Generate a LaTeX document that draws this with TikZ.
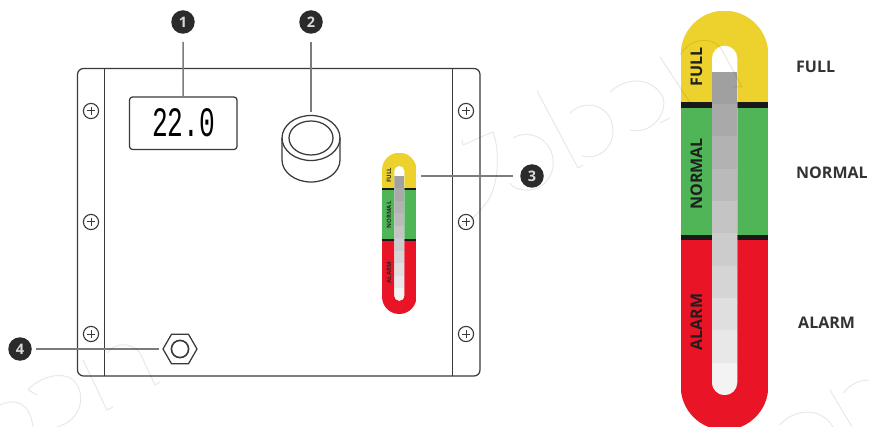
\documentclass[tikz,border=0pt]{standalone}
\usepackage{fontspec}
\usetikzlibrary{shapes.geometric}
\setmainfont{Open Sans}
\newfontfamily\lcdfont{Liberation Mono}
\definecolor{gyellow}{HTML}{EDD22E}
\definecolor{ggreen}{HTML}{4FB557}
\definecolor{gred}{HTML}{EA1427}
\definecolor{badgecol}{HTML}{2B2B2B}
\definecolor{linecol}{HTML}{3A3A3A}
\definecolor{leadercol}{HTML}{7C7C7C}
\tikzset{
  x=1pt,y=-1pt,
  outline/.style={draw=linecol,line width=1.25pt},
  badge/.style={circle,fill=badgecol,minimum size=23.5pt,inner sep=0pt,text=white!85!black,font=\fontsize{14.5}{14.5}\selectfont\bfseries},
  leader/.style={draw=leadercol,line width=1.5pt},
  gaugelabel/.style={rotate=90,inner sep=0pt,text=black!88,font=\fontsize{16}{16}\selectfont\bfseries},
  smalllabel/.style={rotate=90,inner sep=0pt,text=black!85,font=\fontsize{6}{6}\selectfont\bfseries},
  sidelabel/.style={anchor=west,inner sep=0pt,text=black!80,font=\fontsize{16}{16}\selectfont\bfseries},
  watermark/.style={draw=black,opacity=.09,line width=1pt,line join=round}
}
\newcommand{\gaugedraw}[8]{%
  \pgfmathsetmacro{\gL}{#1}\pgfmathsetmacro{\gR}{#2}\pgfmathsetmacro{\gT}{#3}\pgfmathsetmacro{\gB}{#4}
  \pgfmathsetmacro{\sL}{#5}\pgfmathsetmacro{\sR}{#6}\pgfmathsetmacro{\sT}{#7}\pgfmathsetmacro{\sB}{#8}
  \pgfmathsetmacro{\gr}{(\gR-\gL)/2}\pgfmathsetmacro{\sr}{(\sR-\sL)/2}
  \begin{scope}
    \clip (\gL,\gT+\gr) arc[start angle=180,end angle=0,x radius=\gr,y radius=-\gr] -- (\gR,\gB-\gr) arc[start angle=0,end angle=-180,x radius=\gr,y radius=-\gr] -- cycle;
    \fill[gyellow] (\gL,\gT) rectangle (\gR,\dA);
    \fill[ggreen] (\gL,\dA) rectangle (\gR,\dB);
    \fill[gred] (\gL,\dB) rectangle (\gR,\gB);
    \fill[black!90] (\gL,\dA-\dH) rectangle (\gR,\dA+\dH);
    \fill[black!90] (\gL,\dB-\dH) rectangle (\gR,\dB+\dH);
  \end{scope}
  \fill[white] (\sL,\sT+\sr) arc[start angle=180,end angle=0,x radius=\sr,y radius=-\sr] -- (\sR,\sB-\sr) arc[start angle=0,end angle=-180,x radius=\sr,y radius=-\sr] -- cycle;
  \begin{scope}
    \clip (\sL,\sT+\sr) arc[start angle=180,end angle=0,x radius=\sr,y radius=-\sr] -- (\sR,\sB-\sr) arc[start angle=0,end angle=-180,x radius=\sr,y radius=-\sr] -- cycle;
    \pgfmathsetmacro{\bandh}{(\sB-\gZ)/10}
    \foreach \i/\c in {0/A0A0A0,1/A9A9A9,2/B2B2B2,3/BABABA,4/C4C4C4,5/CCCCCC,6/D5D5D5,7/DFDFDF,8/E8E8E8,9/F3F3F3}{
      \definecolor{bandcol}{HTML}{\c}
      \fill[bandcol] (\sL,\gZ+\i*\bandh) rectangle (\sR,\gZ+\i*\bandh+\bandh+0.3);
    }
  \end{scope}
}
\begin{document}
\begin{tikzpicture}
\useasboundingbox (0,0) rectangle (869,427);
\fill[white] (0,0) rectangle (869,427);
% panel
\draw[outline,rounded corners=6pt] (77.5,68.5) rectangle (480,376);
\draw[outline] (104.5,68.5) -- (104.5,376) (452.5,68.5) -- (452.5,376);
\foreach \sx in {91,466}{\foreach \sy in {111,222,334}{
  \draw[outline,line width=1.1pt] (\sx,\sy) circle[radius=7.6];
  \draw[outline,line width=1pt] (\sx-4,\sy) -- (\sx+4,\sy) (\sx,\sy-4) -- (\sx,\sy+4);
}}
% LCD
\node[outline,rounded corners=3pt,minimum width=107.5pt,minimum height=52.5pt,inner sep=0pt] (lcd) at (183.25,123.25) {};
\node[inner sep=0pt,xscale=.64,yscale=1.02,font=\fontsize{41}{41}\lcdfont] (lcdtext) at (183.5,122.5) {22.0};
% knob
\node[ellipse,outline,minimum width=58pt,minimum height=45pt,inner sep=0pt] (knob) at (311,138) {};
\node[ellipse,outline,minimum width=44pt,minimum height=34pt,inner sep=0pt] (knobcap) at (311,138) {};
\draw[outline] (282,138) -- (282,160) arc[start angle=180,end angle=360,x radius=29,y radius=-22] -- (340,138);
% nut
\node[regular polygon,regular polygon sides=6,outline,minimum size=34pt,inner sep=0pt] (nut) at (180,349) {};
\draw[outline,line width=1.6pt] (nut.center) circle[radius=8.6];
% small gauge
\def\dA{189}\def\dB{240}\def\dH{0.7}\def\gZ{176}
\gaugedraw{382}{416.5}{152.7}{314}{394.3}{404.3}{166}{300.7}
\coordinate (smalltip) at (420.5,176);
\node[smalllabel] (sfull) at (389,175) {FULL};
\node[smalllabel] (snormal) at (389,215) {NORMAL};
\node[smalllabel] (salarm) at (389,272.5) {ALARM};
% big gauge
\def\dA{105}\def\dB{237.5}\def\dH{2.6}\def\gZ{71.7}
\gaugedraw{680.7}{768.3}{10.7}{430}{712}{737.3}{45.7}{395}
\node[gaugelabel] (bfull) at (696.5,67) {FULL};
\node[gaugelabel] (bnormal) at (696.5,174) {NORMAL};
\node[gaugelabel] (balarm) at (696.5,322) {ALARM};
\node[sidelabel] (lfull) at (796,67) {FULL};
\node[sidelabel] (lnormal) at (796,173) {NORMAL};
\node[sidelabel] (lalarm) at (798,323) {ALARM};
% badges
\node[badge] (b1) at (183,22) {1};
\node[badge] (b2) at (311,22) {2};
\node[badge] (b3) at (532,176) {3};
\node[badge] (b4) at (20,349) {4};
\draw[leader,shorten <=8pt] (b1.south) -- (lcd.north);
\draw[leader,shorten <=8pt,shorten >=3pt] (b2.south) -- (knob.north);
\draw[leader,shorten <=7pt] (b3.west) -- (smalltip);
\draw[leader,shorten <=4pt,shorten >=3pt] (b4.east) -- (nut.west);
% watermark
\draw[watermark] (462,140) -- (463,145) .. controls (475,140) and (485,135) .. (493,132) .. controls (500,150) and (500,190) .. (483,207) .. controls (475,218) and (465,224) .. (457,227);
\draw[watermark] (513,138) .. controls (530,128) and (552,140) .. (553,160) .. controls (555,178) and (540,190) .. (530,190) .. controls (520,191) and (512,187) .. (510,183);
\draw[watermark] (537,91) -- (578,168) -- (583,165);
\draw[watermark] (570,113) .. controls (585,98) and (612,105) .. (613,130) .. controls (613,150) and (597,160) .. (582,156);
\draw[watermark] (610,92) .. controls (625,78) and (650,75) .. (663,97) .. controls (668,115) and (650,135) .. (630,130);
\draw[watermark] (660,57) -- (693,107);
\draw[watermark] (660,123) -- (670,118);
\draw[watermark] (680,55) .. controls (690,38) and (712,35) .. (722,50) -- (742,87) -- (733,87);
\draw[watermark] (83,360) -- (107,410) -- (113,407);
\draw[watermark] (107,353) .. controls (115,342) and (132,342) .. (140,353) -- (155,385) -- (160,382);
\draw[watermark] (28,390) -- (37,395) (28,390) .. controls (40,376) and (65,370) .. (75,382) .. controls (86,395) and (82,420) .. (57,427);
\draw[watermark] (0,405) .. controls (15,398) and (30,402) .. (33,427);
\draw[watermark] (780,425) .. controls (792,410) and (820,405) .. (833,427);
\draw[watermark] (830,390) -- (852,427);
\draw[watermark] (843,393) .. controls (850,384) and (860,380) .. (869,380);
\end{tikzpicture}
\end{document}
